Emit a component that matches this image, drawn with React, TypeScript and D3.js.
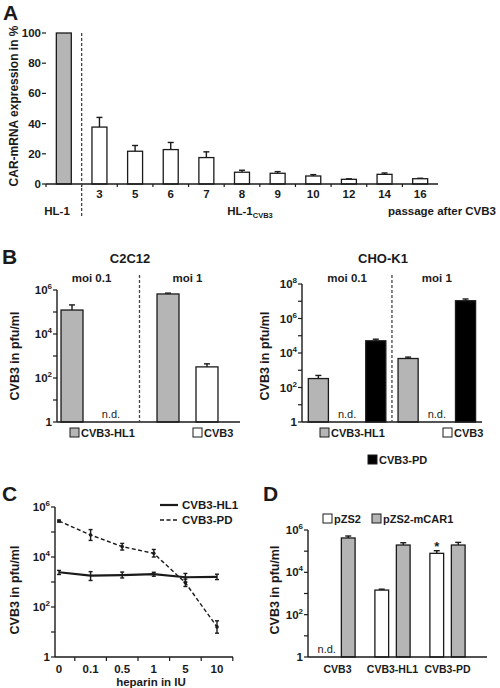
import React from 'react';
import * as d3 from 'd3';

// ---------- Panel A data ----------
const passageCats = ['HL-1', '3', '5', '6', '7', '8', '9', '10', '12', '14', '16'];
const carMean = [100, 37.7, 21.7, 22.8, 17.5, 7.8, 7.1, 5.3, 3.1, 6.4, 3.5];
const carErrTop = [100, 44.1, 25.5, 27.5, 21.3, 9.1, 8.2, 6.2, 3.4, 7.3, 3.8];
const carTicks = [0, 20, 40, 60, 80, 100];

// ---------- Panel B data ----------
const moiGroups = ['moi 0.1', 'moi 1'];
const c2c12Series = ['CVB3-HL1', 'CVB3'];
const c2c12Mean: (number | null)[][] = [[1.23e5, null], [6.6e5, 3.2e2]];
const c2c12ErrTop: (number | null)[][] = [[2.1e5, null], [7.2e5, 4.4e2]];
const choSeries = ['CVB3-HL1', 'CVB3', 'CVB3-PD'];
const choMean: (number | null)[][] = [[330, null, 5.1e4], [4.8e3, null, 1.07e7]];
const choErrTop: (number | null)[][] = [[500, null, 6.3e4], [5.8e3, null, 1.35e7]];

// ---------- Panel C data ----------
const heparinCats = ['0', '0.1', '0.5', '1', '5', '10'];
const hl1Mean = [2.45e3, 1.8e3, 1.9e3, 2.05e3, 1.55e3, 1.6e3];
const hl1Lo = [2.0e3, 1.15e3, 1.45e3, 1.7e3, 1.0e3, 1.25e3];
const hl1Hi = [2.9e3, 2.6e3, 2.5e3, 2.45e3, 2.2e3, 2.05e3];
const pdMean = [2.75e5, 7.6e4, 2.6e4, 1.4e4, 930, 16];
const pdLo = [2.5e5, 4.6e4, 1.9e4, 1.0e4, 660, 9];
const pdHi = [3.0e5, 1.25e5, 3.5e4, 2.0e4, 1.3e3, 28];

// ---------- Panel D data ----------
const dGroups = ['CVB3', 'CVB3-HL1', 'CVB3-PD'];
const dSeries = ['pZS2', 'pZS2-mCAR1'];
const dMean: (number | null)[][] = [[null, 4.2e5], [1.45e3, 1.95e5], [7.9e4, 1.95e5]];
const dErrTop: (number | null)[][] = [[null, 5.2e5], [1.6e3, 2.5e5], [1.05e5, 2.6e5]];

const F = "'Liberation Sans', Arial, Helvetica, sans-serif";
const INK = '#1a1a1a';
const GRAY = '#b5b5b5';
const serColor: Record<string, string> = {
  'CVB3-HL1': GRAY,
  CVB3: '#ffffff',
  'CVB3-PD': '#000000',
  pZS2: '#ffffff',
  'pZS2-mCAR1': GRAY,
};

function LogAxis({ scale, x, maxDec, labelStep }: { scale: any; x: number; maxDec: number; labelStep: number }) {
  const decs = d3.range(0, maxDec + 1);
  return (
    <g>
      <line x1={x} x2={x} y1={scale(Math.pow(10, maxDec))} y2={scale(1)} stroke={INK} strokeWidth={1.4} />
      {decs.map((d) => (
        <line key={d} x1={x - 4} x2={x} y1={scale(Math.pow(10, d))} y2={scale(Math.pow(10, d))} stroke={INK} strokeWidth={1.2} />
      ))}
      {decs
        .filter((d) => d % labelStep === 0)
        .map((d) => (
          <text key={'l' + d} x={x - 5} y={scale(Math.pow(10, d)) + 4} textAnchor="end" fontSize={11.5}>
            {d === 0 ? '1' : '10'}
            {d === 0 ? null : (
              <tspan dy={-5} fontSize={8}>
                {d}
              </tspan>
            )}
          </text>
        ))}
    </g>
  );
}

function ErrBar({ cx, y1, y2, w = 3 }: { cx: number; y1: number; y2: number; w?: number }) {
  return (
    <g stroke={INK} strokeWidth={1.4}>
      <line x1={cx} x2={cx} y1={y1} y2={y2} />
      <line x1={cx - w} x2={cx + w} y1={y2} y2={y2} />
    </g>
  );
}

function YLabel({ x, y, text, size = 12.5 }: { x: number; y: number; text: string; size?: number }) {
  return (
    <text transform={`translate(${x},${y}) rotate(-90)`} textAnchor="middle" fontSize={size}>
      {text}
    </text>
  );
}

function PanelA() {
  const xA = d3.scaleBand().domain(passageCats).range([46, 438]).paddingInner(0.58).paddingOuter(0.29);
  const yA = d3.scaleLinear().domain([0, 100]).range([184, 33]);
  const bw = xA.bandwidth();
  const step = xA.step();
  const sepX = (xA('HL-1')! + bw + xA('3')!) / 2;
  return (
    <g>
      <text x={3} y={20} fontSize={21}>A</text>
      <YLabel x={18} y={106} text="CAR-mRNA expression in %" size={12} />
      {carTicks.map((t) => (
        <g key={t}>
          <line x1={42} x2={46} y1={yA(t)} y2={yA(t)} stroke={INK} strokeWidth={1.2} />
          <text x={41} y={yA(t) + 4} textAnchor="end" fontSize={11.5}>{t}</text>
        </g>
      ))}
      {passageCats.map((c, i) => {
        const x = xA(c)!;
        return (
          <g key={c}>
            {i > 0 && <ErrBar cx={x + bw / 2} y1={yA(carMean[i])} y2={yA(carErrTop[i])} />}
            <rect x={x} y={yA(carMean[i])} width={bw} height={yA(0) - yA(carMean[i])} fill={i === 0 ? GRAY : '#fff'} stroke={INK} strokeWidth={1.3} />
            {i > 0 && (
              <text x={x + bw / 2} y={198} textAnchor="middle" fontSize={11.5}>{c}</text>
            )}
          </g>
        );
      })}
      {passageCats.map((c) => (
        <line key={'t' + c} x1={xA(c)! - (step - bw) / 2} x2={xA(c)! - (step - bw) / 2} y1={184} y2={187} stroke={INK} strokeWidth={1.2} />
      ))}
      <line x1={46} x2={438} y1={184} y2={184} stroke={INK} strokeWidth={1.5} />
      <line x1={sepX} x2={sepX} y1={33} y2={218} stroke="#444" strokeWidth={1.3} strokeDasharray="3,2" />
      <text x={57} y={215} textAnchor="middle" fontSize={11.5}>HL-1</text>
      <text x={250} y={215} textAnchor="middle" fontSize={11.5}>
        HL-1<tspan fontSize={7.5} dy={3}>CVB3</tspan>
      </text>
      <text x={496} y={215} textAnchor="end" fontSize={11.5}>passage after CVB3</text>
    </g>
  );
}

function GroupedLogBars({
  groups, series, mean, errTop, scale, xRange, padInner, barPad,
}: any) {
  const xg = d3.scaleBand().domain(groups).range(xRange).paddingInner(padInner).paddingOuter(padInner / 2);
  const xs = d3.scaleBand().domain(series).range([0, xg.bandwidth()]).paddingInner(barPad);
  const bw = xs.bandwidth();
  return {
    xg, xs, bw,
    marks: groups.map((g: string, gi: number) => (
      <g key={g}>
        {series.map((s: string, si: number) => {
          const v = mean[gi][si];
          const x = xg(g)! + xs(s)!;
          if (v == null) {
            return (
              <text key={s} x={x + bw / 2} y={scale(1) - 4} textAnchor="middle" fontSize={11} fontWeight="normal">n.d.</text>
            );
          }
          return (
            <g key={s}>
              <ErrBar cx={x + bw / 2} y1={scale(v)} y2={scale(errTop[gi][si])} />
              <rect x={x} y={scale(v)} width={bw} height={scale(1) - scale(v)} fill={serColor[s]} stroke={INK} strokeWidth={1.3} />
            </g>
          );
        })}
      </g>
    )),
  };
}

function LegendSquare({ x, y, color, label }: { x: number; y: number; color: string; label: string }) {
  return (
    <g>
      <rect x={x} y={y} width={9} height={9} fill={color} stroke={INK} strokeWidth={1} />
      <text x={x + 11} y={y + 9} fontSize={11}>{label}</text>
    </g>
  );
}

function PanelBLeft() {
  const y = d3.scaleLog().domain([1, 1e6]).range([422, 290]);
  const r = GroupedLogBars({
    groups: moiGroups, series: c2c12Series, mean: c2c12Mean, errTop: c2c12ErrTop, scale: y,
    xRange: [43.5, 235.5], padInner: 0.365, barPad: 0.436,
  });
  const sep = (r.xg('moi 0.1')! + r.xg.bandwidth() + r.xg('moi 1')!) / 2;
  return (
    <g>
      <text x={2} y={264} fontSize={21}>B</text>
      <text x={130} y={263} textAnchor="middle" fontSize={13}>C2C12</text>
      {moiGroups.map((g) => (
        <text key={g} x={r.xg(g)! + r.xg.bandwidth() / 2} y={282} textAnchor="middle" fontSize={11.5}>{g}</text>
      ))}
      <YLabel x={19} y={356} text="CVB3 in pfu/ml" />
      {r.marks}
      <LogAxis scale={y} x={57} maxDec={6} labelStep={2} />
      <line x1={57} x2={240} y1={422} y2={422} stroke={INK} strokeWidth={1.4} />
      <line x1={sep} x2={sep} y1={275} y2={422} stroke="#444" strokeWidth={1.3} strokeDasharray="3,2" />
      <LegendSquare x={70} y={428} color={GRAY} label="CVB3-HL1" />
      <LegendSquare x={193} y={428} color="#fff" label="CVB3" />
    </g>
  );
}

function PanelBRight() {
  const y = d3.scaleLog().domain([1, 1e8]).range([422, 284]);
  const r = GroupedLogBars({
    groups: moiGroups, series: choSeries, mean: choMean, errTop: choErrTop, scale: y,
    xRange: [302.2, 481.7], padInner: 0.136, barPad: 0.3,
  });
  const sep = (r.xg('moi 0.1')! + r.xg.bandwidth() + r.xg('moi 1')!) / 2;
  return (
    <g>
      <text x={383} y={263} textAnchor="middle" fontSize={13}>CHO-K1</text>
      {moiGroups.map((g) => (
        <text key={g} x={r.xg(g)! + r.xg.bandwidth() / 2} y={282} textAnchor="middle" fontSize={11.5}>{g}</text>
      ))}
      <YLabel x={269} y={356} text="CVB3 in pfu/ml" />
      {r.marks}
      <LogAxis scale={y} x={302} maxDec={8} labelStep={2} />
      <line x1={302} x2={482} y1={422} y2={422} stroke={INK} strokeWidth={1.4} />
      <line x1={sep} x2={sep} y1={275} y2={422} stroke="#444" strokeWidth={1.3} strokeDasharray="3,2" />
      <LegendSquare x={320} y={428} color={GRAY} label="CVB3-HL1" />
      <LegendSquare x={443} y={428} color="#fff" label="CVB3" />
      <LegendSquare x={368} y={455} color="#000" label="CVB3-PD" />
    </g>
  );
}

function PanelC() {
  const y = d3.scaleLog().domain([1, 1e6]).range([657, 507]);
  const x = d3.scalePoint().domain(heparinCats).range([59, 217]);
  const step = x.step();
  const line = d3.line<number>().x((_, i) => x(heparinCats[i])!).y((d) => y(d));
  return (
    <g>
      <text x={2} y={501} fontSize={21}>C</text>
      <YLabel x={19} y={590} text="CVB3 in pfu/ml" />
      <LogAxis scale={y} x={55} maxDec={6} labelStep={2} />
      <line x1={55} x2={233} y1={657} y2={657} stroke={INK} strokeWidth={1.4} />
      {heparinCats.map((c) => (
        <g key={c}>
          <line x1={x(c)! + step / 2} x2={x(c)! + step / 2} y1={657} y2={661} stroke={INK} strokeWidth={1.2} />
          <text x={x(c)!} y={673} textAnchor="middle" fontSize={11.5}>{c}</text>
        </g>
      ))}
      <text x={151} y={686} textAnchor="middle" fontSize={11.5}>heparin in IU</text>
      <path d={line(pdMean)!} fill="none" stroke={INK} strokeWidth={1.4} strokeDasharray="4,2.5" />
      <path d={line(hl1Mean)!} fill="none" stroke={INK} strokeWidth={2.2} />
      {heparinCats.map((c, i) => (
        <g key={'e' + c} stroke={INK} strokeWidth={1.4}>
          <line x1={x(c)!} x2={x(c)!} y1={y(pdLo[i])} y2={y(pdHi[i])} />
          <line x1={x(c)! - 2} x2={x(c)! + 2} y1={y(pdLo[i])} y2={y(pdLo[i])} />
          <line x1={x(c)! - 2} x2={x(c)! + 2} y1={y(pdHi[i])} y2={y(pdHi[i])} />
          <circle cx={x(c)!} cy={y(pdMean[i])} r={1.8} fill={INK} stroke="none" />
          <line x1={x(c)!} x2={x(c)!} y1={y(hl1Lo[i])} y2={y(hl1Hi[i])} />
          <line x1={x(c)! - 2} x2={x(c)! + 2} y1={y(hl1Lo[i])} y2={y(hl1Lo[i])} />
          <line x1={x(c)! - 2} x2={x(c)! + 2} y1={y(hl1Hi[i])} y2={y(hl1Hi[i])} />
        </g>
      ))}
      <line x1={160} x2={178} y1={505} y2={505} stroke={INK} strokeWidth={2.2} />
      <text x={182} y={509} fontSize={11.5}>CVB3-HL1</text>
      <line x1={160} x2={178} y1={520} y2={520} stroke={INK} strokeWidth={1.6} strokeDasharray="4,2.5" />
      <text x={182} y={524} fontSize={11.5}>CVB3-PD</text>
    </g>
  );
}

function PanelD() {
  const y = d3.scaleLog().domain([1, 1e6]).range([657, 530]);
  const r = GroupedLogBars({
    groups: dGroups, series: dSeries, mean: dMean, errTop: dErrTop, scale: y,
    xRange: [310, 475], padInner: 0.36, barPad: 0.36,
  });
  const pdX = r.xg('CVB3-PD')! + r.xs('pZS2')! + r.bw / 2;
  return (
    <g>
      <text x={263} y={501} fontSize={21}>D</text>
      <LegendSquare x={323} y={514} color="#fff" label="pZS2" />
      <LegendSquare x={372} y={514} color={GRAY} label="pZS2-mCAR1" />
      <YLabel x={279} y={590} text="CVB3 in pfu/ml" />
      {r.marks}
      <text x={pdX} y={551} textAnchor="middle" fontSize={13}>*</text>
      <LogAxis scale={y} x={308} maxDec={6} labelStep={2} />
      <line x1={308} x2={487} y1={657} y2={657} stroke={INK} strokeWidth={1.4} />
      {dGroups.map((g) => (
        <text key={g} x={r.xg(g)! + r.xg.bandwidth() / 2} y={673} textAnchor="middle" fontSize={10.5}>{g}</text>
      ))}
    </g>
  );
}

export default function App() {
  return (
    <svg
      width={500}
      height={688}
      style={{ position: 'absolute', left: 0, top: 0, background: '#fff' }}
      fontFamily={F}
      fontWeight="bold"
      fill={INK}
    >
      <rect width={500} height={688} fill="#fff" />
      <PanelA />
      <PanelBLeft />
      <PanelBRight />
      <PanelC />
      <PanelD />
    </svg>
  );
}
